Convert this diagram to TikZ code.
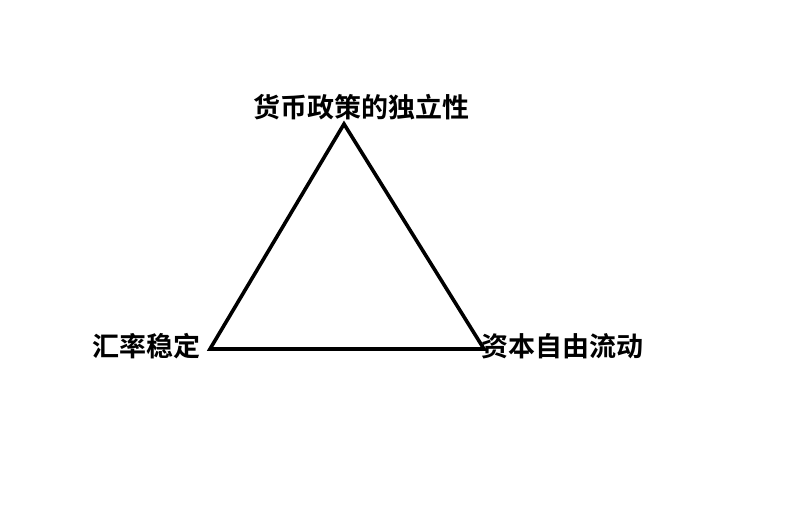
\documentclass[tikz,border=0pt]{standalone}
\usepackage{fontspec}
\newfontfamily\cjk{Noto Sans CJK SC Bold}
\begin{document}
\begin{tikzpicture}[x=1pt,y=-1pt,
  lbl/.style={font=\cjk\fontsize{27}{29}\selectfont, inner sep=0pt},
  edge/.style={line width=3.6pt, line join=miter}]
\useasboundingbox (0,0) rectangle (800,529);
\fill[white] (0,0) rectangle (800,529);
\coordinate (A) at (344,124);
\coordinate (B) at (210,349);
\coordinate (C) at (484,349);
\draw[edge] (A) -- (B) -- (C) -- cycle;
\node[lbl] (top) at (361,107) {货币政策的独立性};
\node[lbl] (left) at (146,346) {汇率稳定};
\node[lbl] (right) at (562,346) {资本自由流动};
\end{tikzpicture}
\end{document}
